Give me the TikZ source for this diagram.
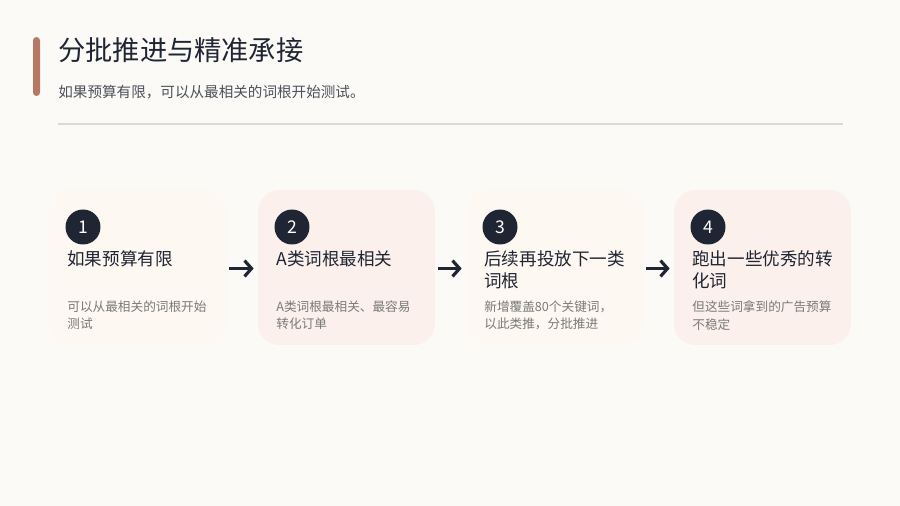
\documentclass[tikz,border=0pt]{standalone}
\usepackage{fontspec}
\setmainfont{Noto Sans CJK SC}
\usetikzlibrary{positioning,arrows.meta}
\definecolor{bgcol}{HTML}{FCFAF6}
\definecolor{cardA}{HTML}{FDF9F2}
\definecolor{cardB}{HTML}{FBF0EC}
\definecolor{accent}{HTML}{B87866}
\definecolor{ink}{HTML}{1F2533}
\definecolor{greytxt}{HTML}{7A7A7A}
\tikzset{
  card/.style={rounded corners=12pt, minimum width=3.54cm, minimum height=3.1cm, inner sep=0pt},
  badge/.style={circle, fill=ink, minimum size=0.7cm, inner sep=0pt, text=white, font=\fontsize{10}{10}\selectfont},
  head/.style={anchor=north west, align=left, text=ink, inner sep=0pt, font=\fontsize{10}{12.5}\selectfont},
  note/.style={anchor=north west, align=left, text=greytxt, inner sep=0pt, font=\fontsize{7.2}{10.2}\selectfont},
  flow/.style={-{Straight Barb[length=4pt,width=9pt]}, line width=1.8pt, draw=ink}
}
\begin{document}
\begin{tikzpicture}[x=0.02cm, y=-0.02cm]
\fill[bgcol] (0,0) rectangle (900,506);
\useasboundingbox (0,0) rectangle (900,506);

% header
\fill[accent, rounded corners=2pt] (33,37) rectangle (40,96);
\node[anchor=west, inner sep=0pt, text=ink, font=\fontsize{15.5}{15.5}\selectfont] (title) at (58,50) {分批推进与精准承接};
\node[anchor=west, inner sep=0pt, text=ink!80, font=\fontsize{8.3}{8.3}\selectfont] (sub) at (58,92) {如果预算有限，可以从最相关的词根开始测试。};
\draw[black!15, line width=0.6pt] (58,124) -- (843,124);

% cards
\node[card, fill=cardA] (c1) at (137.5,267.5) {};
\node[card, fill=cardB] (c2) at (346.5,267.5) {};
\node[card, fill=cardA] (c3) at (554.5,267.5) {};
\node[card, fill=cardB] (c4) at (762.5,267.5) {};

\node[badge] (b1) at (83,227) {1};
\node[badge] (b2) at (292,227) {2};
\node[badge] (b3) at (500,227) {3};
\node[badge] (b4) at (708,227) {4};

\node[head] (h1) at (67,250) {如果预算有限};
\node[head] (h2) at (276,250) {A类词根最相关};
\node[head] (h3) at (484,250) {后续再投放下一类\\词根};
\node[head] (h4) at (692,250) {跑出一些优秀的转\\化词};

\node[note] (n1) at (67,300) {可以从最相关的词根开始\\测试};
\node[note] (n2) at (276,300) {A类词根最相关、最容易\\转化订单};
\node[note] (n3) at (484,300) {新增覆盖80个关键词，\\以此类推，分批推进};
\node[note] (n4) at (692,300) {但这些词拿到的广告预算\\不稳定};

\draw[flow] ([xshift=0.06cm,yshift=-0.02cm]c1.east) -- ([xshift=-0.08cm,yshift=-0.02cm]c2.west);
\draw[flow] ([xshift=0.06cm,yshift=-0.02cm]c2.east) -- ([xshift=-0.08cm,yshift=-0.02cm]c3.west);
\draw[flow] ([xshift=0.06cm,yshift=-0.02cm]c3.east) -- ([xshift=-0.08cm,yshift=-0.02cm]c4.west);
\end{tikzpicture}
\end{document}
